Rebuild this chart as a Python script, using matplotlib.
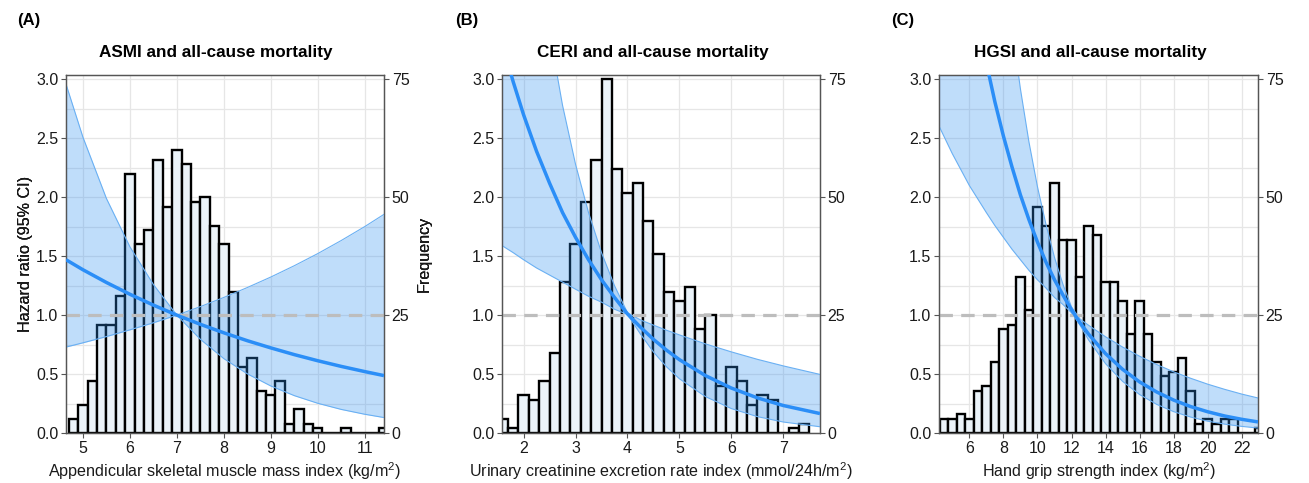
import matplotlib
matplotlib.use("Agg")
import matplotlib.pyplot as plt
from matplotlib.ticker import FormatStrFormatter

plt.rcParams['font.family'] = ['Liberation Sans', 'DejaVu Sans']
plt.rcParams['mathtext.fontset'] = 'custom'
plt.rcParams['mathtext.rm'] = 'Liberation Sans'
plt.rcParams['mathtext.it'] = 'Liberation Sans:italic'

# ---------------- data ----------------
# Panel A: ASMI
asmi_bin_centers = [4.8, 5.0, 5.2, 5.4, 5.6, 5.8, 6.0, 6.2, 6.4, 6.6, 6.8, 7.0, 7.2, 7.4, 7.6, 7.8,
                    8.0, 8.2, 8.4, 8.6, 8.8, 9.0, 9.2, 9.4, 9.6, 9.8, 10.0, 10.2, 10.4, 10.6,
                    10.8, 11.0, 11.2, 11.4]
asmi_counts = [3, 6, 11, 23, 23, 29, 55, 40, 43, 58, 48, 60, 57, 49, 50, 44,
               40, 30, 14, 16, 9, 8, 11, 2, 5, 2, 1, 0, 0, 1,
               0, 0, 0, 1]
asmi_x = [4.64, 5.0, 5.5, 6.0, 6.5, 7.0, 7.5, 8.0, 8.5, 9.0, 9.5, 10.0, 10.5, 11.0, 11.41]
asmi_hr = [1.47, 1.385, 1.277, 1.177, 1.085, 1.0, 0.922, 0.850, 0.783, 0.722, 0.665, 0.613,
           0.565, 0.521, 0.487]
asmi_hi = [2.96, 2.51, 1.99, 1.58, 1.26, 1.0, 1.072, 1.150, 1.234, 1.323, 1.419, 1.522,
           1.633, 1.751, 1.855]
asmi_lo = [0.729, 0.765, 0.818, 0.875, 0.935, 1.0, 0.795, 0.631, 0.502, 0.399, 0.317, 0.252,
           0.200, 0.159, 0.131]

# Panel B: CERI
ceri_bin_centers = [1.6, 1.8, 2.0, 2.2, 2.4, 2.6, 2.8, 3.0, 3.2, 3.4, 3.6, 3.8, 4.0, 4.2, 4.4,
                    4.6, 4.8, 5.0, 5.2, 5.4, 5.6, 5.8, 6.0, 6.2, 6.4, 6.6, 6.8, 7.0, 7.2, 7.4]
ceri_counts = [3, 1, 8, 7, 11, 17, 32, 40, 49, 58, 75, 56, 51, 53, 45,
               38, 30, 28, 31, 22, 25, 10, 14, 11, 6, 8, 7, 0, 1, 2]
ceri_x = [1.585, 1.8, 2.0, 2.25, 2.5, 2.75, 3.0, 3.25, 3.5, 3.75, 4.0, 4.25, 4.5, 4.75, 5.0,
          5.5, 6.0, 6.5, 7.0, 7.705]
ceri_hr = [3.31, 2.98, 2.70, 2.39, 2.12, 1.87, 1.66, 1.47, 1.30, 1.15, 1.01, 0.898, 0.794,
           0.703, 0.622, 0.487, 0.381, 0.298, 0.233, 0.165]
ceri_hi = [7.07, 5.95, 5.07, 4.15, 3.40, 2.78, 2.28, 1.87, 1.53, 1.25, 1.02, 0.959, 0.915,
           0.872, 0.832, 0.756, 0.688, 0.625, 0.569, 0.497]
ceri_lo = [1.59, 1.53, 1.47, 1.40, 1.34, 1.28, 1.22, 1.16, 1.11, 1.05, 1.006, 0.839, 0.687,
           0.562, 0.460, 0.309, 0.207, 0.139, 0.093, 0.053]

# Panel C: HGSI
hgsi_bin_centers = [4.5, 5.0, 5.5, 6.0, 6.5, 7.0, 7.5, 8.0, 8.5, 9.0, 9.5, 10.0, 10.5, 11.0,
                    11.5, 12.0, 12.5, 13.0, 13.5, 14.0, 14.5, 15.0, 15.5, 16.0, 16.5, 17.0,
                    17.5, 18.0, 18.5, 19.0, 19.5, 20.0, 20.5, 21.0, 21.5, 22.0, 22.5, 23.0]
hgsi_counts = [3, 3, 4, 3, 9, 10, 15, 22, 23, 33, 26, 48, 44, 53,
               41, 41, 33, 44, 42, 32, 32, 28, 21, 28, 21, 15,
               12, 13, 16, 9, 2, 3, 2, 3, 3, 0, 0, 1]
hgsi_x = [4.2, 5.0, 6.0, 7.0, 7.5, 8.0, 8.5, 9.0, 9.5, 10.0, 10.5, 11.0, 11.5, 12.0, 12.5,
          13.0, 14.0, 15.0, 16.0, 17.0, 18.0, 19.0, 20.0, 21.0, 22.0, 22.95]
hgsi_hr = [5.81, 4.87, 3.91, 3.14, 2.81, 2.52, 2.26, 2.02, 1.81, 1.62, 1.45, 1.30, 1.17,
           1.045, 0.936, 0.839, 0.673, 0.540, 0.433, 0.348, 0.279, 0.224, 0.180, 0.144,
           0.116, 0.094]
hgsi_hi = [14.6, 11.2, 7.98, 5.71, 4.83, 4.08, 3.45, 2.92, 2.47, 2.09, 1.77, 1.49, 1.26,
           1.07, 0.967, 0.914, 0.816, 0.729, 0.651, 0.581, 0.519, 0.464, 0.414, 0.370,
           0.330, 0.297]
hgsi_lo = [2.61, 2.37, 2.10, 1.87, 1.76, 1.66, 1.56, 1.47, 1.38, 1.30, 1.23, 1.15, 1.09,
           1.02, 0.915, 0.790, 0.588, 0.438, 0.326, 0.243, 0.181, 0.135, 0.100, 0.075,
           0.056, 0.042]

panel_labels = ["(A)", "(B)", "(C)"]
titles = ["ASMI and all-cause mortality", "CERI and all-cause mortality",
          "HGSI and all-cause mortality"]
xlabels = ["Appendicular skeletal muscle mass index (kg/m$^{2}$)",
           "Urinary creatinine excretion rate index (mmol/24h/m$^{2}$)",
           "Hand grip strength index (kg/m$^{2}$)"]
hr_ticks = [0.0, 0.5, 1.0, 1.5, 2.0, 2.5, 3.0]
freq_ticks = [0, 25, 50, 75]
xticks_list = [[5, 6, 7, 8, 9, 10, 11], [2, 3, 4, 5, 6, 7],
               [6, 8, 10, 12, 14, 16, 18, 20, 22]]

# ---------------- style / layout ----------------
W, H = 1309, 483
YTOP = 3.037
BAR_FILL = "#ebf3f9"
BAND = "#2e8ff0"
BAND_EDGE = "#6ab0f3"
LINE = "#2b8ef7"
GRID = "#e6e6e6"
FRAME = "#555555"
TXT = "#1a1a1a"

axes_px = [(66, 384), (502, 820), (939, 1258)]
ax_top, ax_bot = 75, 433
xlims = [(4.64, 11.41), (1.585, 7.705), (4.22, 22.95)]
bin_widths = [0.2, 0.2, 0.5]
label_x = [17, 455, 891]
title_x = [216, 653, 1090]

panels = [
    (asmi_bin_centers, asmi_counts, asmi_x, asmi_hr, asmi_lo, asmi_hi),
    (ceri_bin_centers, ceri_counts, ceri_x, ceri_hr, ceri_lo, ceri_hi),
    (hgsi_bin_centers, hgsi_counts, hgsi_x, hgsi_hr, hgsi_lo, hgsi_hi),
]

fig = plt.figure(figsize=(W / 100, H / 100), dpi=100)

for i, (centers, counts, cx, hr, lo, hi) in enumerate(panels):
    l, r = axes_px[i]
    wpx = r - l
    rect = [l / W, (H - ax_bot) / H, wpx / W, (ax_bot - ax_top) / H]
    ax = fig.add_axes(rect)
    ax.set_xlim(*xlims[i])
    ax.set_ylim(0, 75 * YTOP / 3.0)
    ax.set_axisbelow(True)
    ax.bar(centers, counts, width=bin_widths[i], color=BAR_FILL, edgecolor="black",
           linewidth=1.7, align="center", zorder=2)
    ax.set_xticks(xticks_list[i])
    ax.set_yticks(freq_ticks)
    ax.set_yticks([v * 25 for v in [0.25, 0.5, 0.75, 1.25, 1.5, 1.75, 2.25, 2.5, 2.75]],
                  minor=True)
    ax.grid(True, which="both", axis="y", color=GRID, lw=0.9)
    ax.grid(True, which="major", axis="x", color=GRID, lw=0.9)
    ax.tick_params(which="minor", length=0)

    ax2 = ax.twinx()
    ax.yaxis.tick_right()
    ax.yaxis.set_label_position("right")
    ax2.yaxis.tick_left()
    ax2.yaxis.set_label_position("left")
    ax2.set_ylim(0, YTOP)
    ax2.set_yticks(hr_ticks)
    ax2.yaxis.set_major_formatter(FormatStrFormatter("%.1f"))

    ax2.fill_between(cx, lo, hi, color=BAND, alpha=0.30, lw=0, zorder=1)
    ax2.plot(cx, lo, color=BAND_EDGE, lw=0.8, zorder=1.5)
    ax2.plot(cx, hi, color=BAND_EDGE, lw=0.8, zorder=1.5)
    ax2.axhline(1.0, color="#bdbdbd", lw=2.3, ls=(0, (4.2, 2.6)), zorder=2)
    ax2.plot(cx, hr, color=LINE, lw=2.5, zorder=3, solid_capstyle="butt")

    for a in (ax, ax2):
        for s in a.spines.values():
            s.set_color(FRAME)
            s.set_linewidth(0.9)
        a.tick_params(which="major", color=FRAME, length=3.5, width=0.8,
                      labelsize=11.5, labelcolor=TXT, pad=2)

    ax2.set_ylabel("Hazard ratio (95% CI)", fontsize=11.6, color=TXT)
    ax2.yaxis.set_label_coords((33.5 - l) / wpx, 0.5)
    ax.set_ylabel("Frequency", fontsize=11.6, color=TXT)
    ax.yaxis.set_label_coords(1 + (417 - r) / wpx, 0.5)
    ax.set_xlabel(xlabels[i], fontsize=11.6, color=TXT)
    ax.xaxis.set_label_coords(0.5, -(460 - ax_bot) / (ax_bot - ax_top))

    fig.text(title_x[i] / W, (H - 57.5) / H, titles[i], ha="center", va="baseline",
             fontsize=12.3, fontweight="bold", color="black")
    fig.text(label_x[i] / W, (H - 20) / H, panel_labels[i], ha="left", va="center",
             fontsize=12, fontweight="bold", color="black")

fig.savefig("out.png", dpi=100)
